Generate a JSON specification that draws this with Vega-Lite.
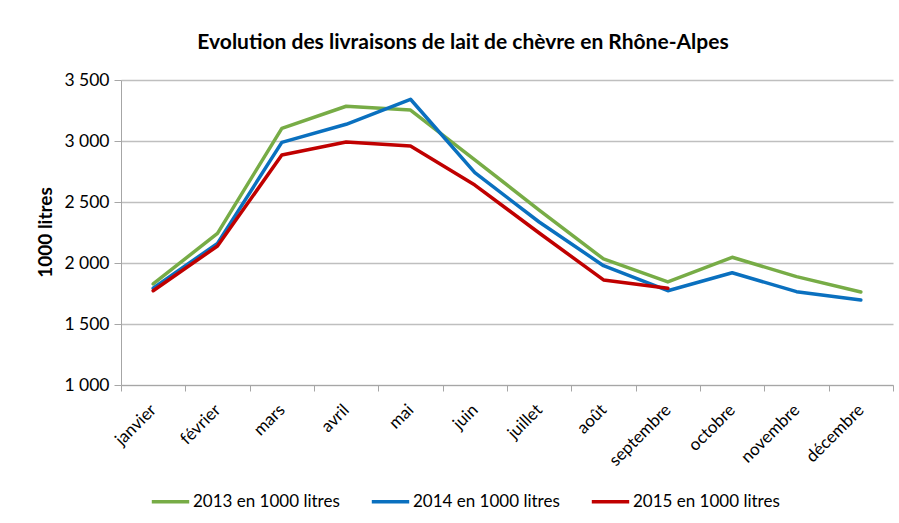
{
  "$schema": "https://vega.github.io/schema/vega-lite/v6.json",
  "width": 772,
  "height": 305,
  "autosize": {"type": "none"},
  "padding": {"left": 121, "top": 80, "right": 6, "bottom": 138},
  "background": "white",
  "config": {
    "font": "Lato",
    "locale": {"number": {"decimal": ",", "thousands": " ", "grouping": [3], "currency": ["", " €"]}},
    "view": {"stroke": null}
  },
  "title": {
    "text": "Evolution des livraisons de lait de chèvre en Rhône-Alpes",
    "font": "Lato",
    "fontSize": 21,
    "fontWeight": "bold",
    "color": "#000000",
    "anchor": "middle",
    "frame": "group",
    "dx": -44,
    "offset": 18
  },
  "data": {
    "values": [
      {"mois": "janvier", "serie": "2013 en 1000 litres", "valeur": 1828},
      {"mois": "février", "serie": "2013 en 1000 litres", "valeur": 2243},
      {"mois": "mars", "serie": "2013 en 1000 litres", "valeur": 3104},
      {"mois": "avril", "serie": "2013 en 1000 litres", "valeur": 3285},
      {"mois": "mai", "serie": "2013 en 1000 litres", "valeur": 3254},
      {"mois": "juin", "serie": "2013 en 1000 litres", "valeur": 2845},
      {"mois": "juillet", "serie": "2013 en 1000 litres", "valeur": 2434},
      {"mois": "août", "serie": "2013 en 1000 litres", "valeur": 2033},
      {"mois": "septembre", "serie": "2013 en 1000 litres", "valeur": 1845},
      {"mois": "octobre", "serie": "2013 en 1000 litres", "valeur": 2047},
      {"mois": "novembre", "serie": "2013 en 1000 litres", "valeur": 1888},
      {"mois": "décembre", "serie": "2013 en 1000 litres", "valeur": 1762},
      {"mois": "janvier", "serie": "2014 en 1000 litres", "valeur": 1793},
      {"mois": "février", "serie": "2014 en 1000 litres", "valeur": 2161},
      {"mois": "mars", "serie": "2014 en 1000 litres", "valeur": 2989},
      {"mois": "avril", "serie": "2014 en 1000 litres", "valeur": 3137},
      {"mois": "mai", "serie": "2014 en 1000 litres", "valeur": 3342},
      {"mois": "juin", "serie": "2014 en 1000 litres", "valeur": 2740},
      {"mois": "juillet", "serie": "2014 en 1000 litres", "valeur": 2336},
      {"mois": "août", "serie": "2014 en 1000 litres", "valeur": 1978},
      {"mois": "septembre", "serie": "2014 en 1000 litres", "valeur": 1773},
      {"mois": "octobre", "serie": "2014 en 1000 litres", "valeur": 1920},
      {"mois": "novembre", "serie": "2014 en 1000 litres", "valeur": 1765},
      {"mois": "décembre", "serie": "2014 en 1000 litres", "valeur": 1697},
      {"mois": "janvier", "serie": "2015 en 1000 litres", "valeur": 1773},
      {"mois": "février", "serie": "2015 en 1000 litres", "valeur": 2139},
      {"mois": "mars", "serie": "2015 en 1000 litres", "valeur": 2885},
      {"mois": "avril", "serie": "2015 en 1000 litres", "valeur": 2992},
      {"mois": "mai", "serie": "2015 en 1000 litres", "valeur": 2959},
      {"mois": "juin", "serie": "2015 en 1000 litres", "valeur": 2639},
      {"mois": "juillet", "serie": "2015 en 1000 litres", "valeur": 2246},
      {"mois": "août", "serie": "2015 en 1000 litres", "valeur": 1861},
      {"mois": "septembre", "serie": "2015 en 1000 litres", "valeur": 1793}
    ]
  },
  "mark": {"type": "line", "strokeCap": "round", "strokeJoin": "round"},
  "encoding": {
    "x": {
      "field": "mois",
      "type": "nominal",
      "sort": ["janvier", "février", "mars", "avril", "mai", "juin", "juillet", "août", "septembre", "octobre", "novembre", "décembre"],
      "bandPosition": 0.5,
      "scale": {"type": "band", "paddingInner": 0, "paddingOuter": 0},
      "axis": {
        "title": null,
        "labelAngle": -45,
        "labelAlign": "right",
        "labelBaseline": "middle",
        "labelPadding": 16,
        "labelFontSize": 17,
        "labelColor": "#000000",
        "labelFont": "Lato",
        "tickBand": "extent",
        "tickSize": 6,
        "tickColor": "#a6a6a6",
        "domainColor": "#a6a6a6",
        "grid": false
      }
    },
    "y": {
      "field": "valeur",
      "type": "quantitative",
      "scale": {"domain": [1000, 3500], "zero": false, "nice": false},
      "axis": {
        "title": "1000 litres",
        "titleFontSize": 19,
        "titleFontWeight": "bold",
        "titleColor": "#000000",
        "titleFont": "Lato",
        "titleX": -76,
        "titleY": 152,
        "titleAlign": "center",
        "titleBaseline": "middle",
        "titleAngle": -90,
        "values": [1000, 1500, 2000, 2500, 3000, 3500],
        "format": ",d",
        "labelFontSize": 17.5,
        "labelColor": "#000000",
        "labelFont": "Lato",
        "labelPadding": 5,
        "tickSize": 7,
        "tickColor": "#a6a6a6",
        "domainColor": "#a6a6a6",
        "gridColor": "#bfbfbf",
        "gridWidth": 1.3
      }
    },
    "color": {
      "field": "serie",
      "type": "nominal",
      "scale": {
        "domain": ["2013 en 1000 litres", "2014 en 1000 litres", "2015 en 1000 litres"],
        "range": ["#77ac46", "#0a70bf", "#c00000"]
      },
      "legend": {
        "title": null,
        "orient": "none",
        "legendX": 29,
        "legendY": 401,
        "direction": "horizontal",
        "columns": 3,
        "columnPadding": 24,
        "symbolType": "stroke",
        "symbolSize": 1400,
        "symbolStrokeWidth": 4,
        "labelFontSize": 17,
        "labelColor": "#000000",
        "labelFont": "Lato",
        "labelOffset": 2
      }
    },
    "strokeWidth": {
      "field": "serie",
      "type": "nominal",
      "scale": {
        "domain": ["2013 en 1000 litres", "2014 en 1000 litres", "2015 en 1000 litres"],
        "range": [3.5, 3.5, 5.5]
      },
      "legend": null
    }
  }
}
